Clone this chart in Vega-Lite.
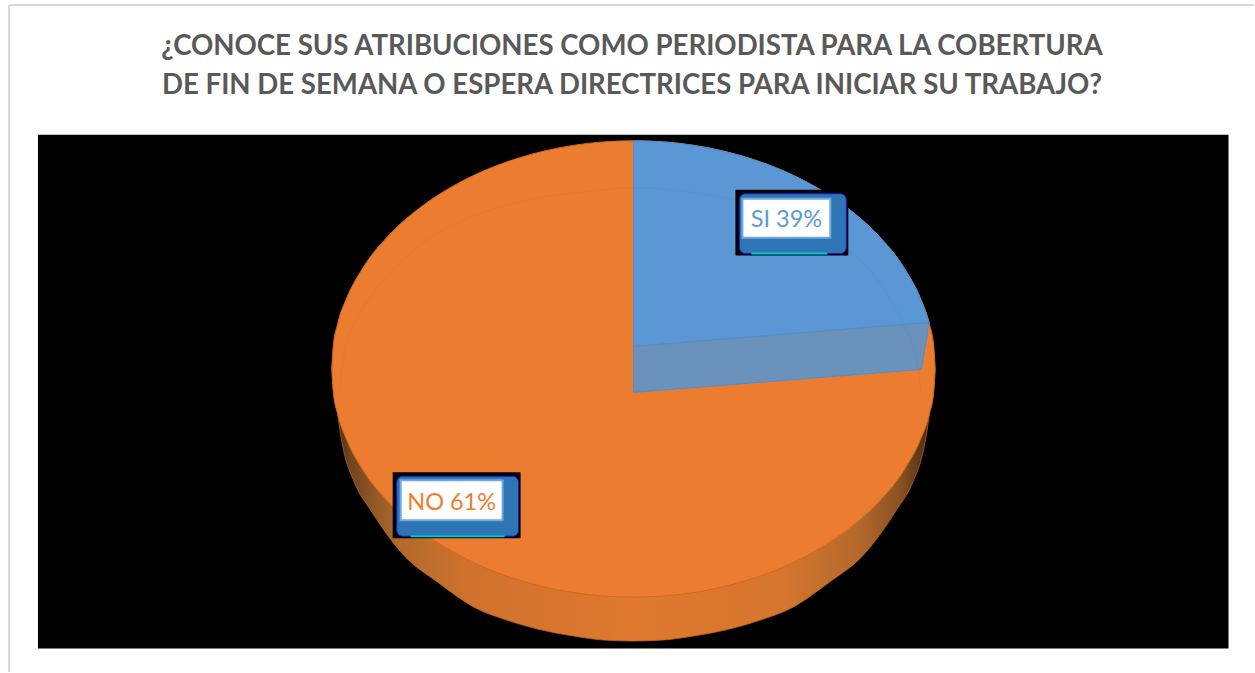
{
"$schema":"https://vega.github.io/schema/vega-lite/v6.json",
"autosize":{"type":"fit","contains":"padding"},
"width":1255,"height":673,"padding":0,"background":"#ffffff",
"view":{"stroke":null},
"datasets":{
"frame":[{"x":9,"x2":9,"y":5,"y2":673},{"x":9,"x2":1255,"y":5,"y2":5}],
"panel":[{"x":38,"x2":1229.5,"y":135,"y2":649.5}],
"side":[{"x":338,"y":415,"y2":415},{"x":340,"y":430,"y2":415},{"x":343,"y":447,"y2":415},{"x":355,"y":484,"y2":415},{"x":371,"y":511,"y2":415},{"x":405,"y":557,"y2":415},{"x":438,"y":583,"y2":415},{"x":478,"y":610,"y2":415},{"x":504,"y":620,"y2":415},{"x":538,"y":630,"y2":415},{"x":574,"y":637,"y2":415},{"x":604,"y":641,"y2":415},{"x":634,"y":642,"y2":415},{"x":664,"y":641,"y2":415},{"x":694,"y":637,"y2":415},{"x":730,"y":630,"y2":415},{"x":764,"y":620,"y2":415},{"x":790,"y":610,"y2":415},{"x":830,"y":583,"y2":415},{"x":863,"y":557,"y2":415},{"x":897,"y":511,"y2":415},{"x":913,"y":484,"y2":415},{"x":925,"y":447,"y2":415},{"x":928,"y":430,"y2":415},{"x":930,"y":415,"y2":415}],
"no":[{"x":332,"y":369.5,"y2":369.5},{"x":333.5,"y":346.7,"y2":392.3},{"x":338,"y":324,"y2":415},{"x":347.1,"y":298.2,"y2":440.8},{"x":362.2,"y":269.9,"y2":469.1},{"x":392.4,"y":232.4,"y2":506.6},{"x":422.6,"y":206.3,"y2":532.7},{"x":452.8,"y":186.7,"y2":552.3},{"x":483,"y":171.6,"y2":567.4},{"x":513.2,"y":160.1,"y2":578.9},{"x":543.4,"y":151.5,"y2":587.5},{"x":573.6,"y":145.6,"y2":593.4},{"x":603.8,"y":142.1,"y2":596.9},{"x":634,"y":141,"y2":598},{"x":664.2,"y":142.1,"y2":596.9},{"x":694.4,"y":145.6,"y2":593.4},{"x":724.6,"y":151.5,"y2":587.5},{"x":754.8,"y":160.1,"y2":578.9},{"x":785,"y":171.6,"y2":567.4},{"x":815.2,"y":186.7,"y2":552.3},{"x":845.4,"y":206.3,"y2":532.7},{"x":875.6,"y":232.4,"y2":506.6},{"x":905.8,"y":269.9,"y2":469.1},{"x":920.9,"y":298.2,"y2":440.8},{"x":930,"y":324,"y2":415},{"x":934.5,"y":346.7,"y2":392.3},{"x":936,"y":369.5,"y2":369.5}],
"siFace":[{"x":634,"y":347,"y2":393},{"x":922,"y":323.6,"y2":370},{"x":930,"y":323,"y2":323}],
"siTop":[{"x":634,"y":141,"y2":347},{"x":664.2,"y":142.1,"y2":344.6},{"x":694.4,"y":145.6,"y2":342.1},{"x":724.6,"y":151.5,"y2":339.7},{"x":754.8,"y":160.1,"y2":337.2},{"x":785,"y":171.6,"y2":334.8},{"x":815.2,"y":186.7,"y2":332.3},{"x":845.4,"y":206.3,"y2":329.9},{"x":875.6,"y":232.4,"y2":327.4},{"x":905.8,"y":269.9,"y2":325},{"x":920.9,"y":298.2,"y2":323.7},{"x":930,"y":323,"y2":323}],
"rim":[{"x":340,"y":395},{"x":342,"y":370},{"x":345,"y":352},{"x":358,"y":318},{"x":375,"y":292},{"x":425,"y":242},{"x":492,"y":210},{"x":540,"y":198},{"x":585,"y":192},{"x":635,"y":188},{"x":720,"y":197},{"x":776,"y":210},{"x":843,"y":245},{"x":885,"y":290},{"x":903,"y":323},{"x":918,"y":365},{"x":922,"y":395}],
"labels":[
{"label":"SI 39%","serie":"SI","value":39,"bx":736,"bx2":849,"by":190,"by2":256,"sx":740,"sx2":847,"sy":194,"sy2":254,"wx":743,"wx2":831,"wy":199,"wy2":238,"cx":752,"cx2":828,"cy":254,"tx":787,"ty":220,"color":"#5b9bd5"},
{"label":"NO 61%","serie":"NO","value":61,"bx":393,"bx2":521,"by":473,"by2":539,"sx":397,"sx2":519,"sy":477,"sy2":537,"wx":401,"wx2":503,"wy":481,"wy2":521,"cx":411,"cx2":505,"cy":537,"tx":452,"ty":504,"color":"#ed7d31"}],
"title":[{"t":"¿CONOCE SUS ATRIBUCIONES COMO PERIODISTA PARA LA COBERTURA","x":632.5,"y":47},{"t":"DE FIN DE SEMANA O ESPERA DIRECTRICES PARA INICIAR SU TRABAJO?","x":632.5,"y":86}]
},
"encoding":{
"x":{"field":"x","type":"quantitative","axis":null,"scale":{"domain":[0,1255]}},
"y":{"field":"y","type":"quantitative","axis":null,"scale":{"domain":[673,0]}}
},
"layer":[
{"data":{"name":"frame"},"mark":{"type":"rule","color":"#d9d9d9","strokeWidth":2},"encoding":{"x2":{"field":"x2"},"y2":{"field":"y2"}}},
{"data":{"name":"panel"},"mark":{"type":"rect","color":"#000000"},"encoding":{"x2":{"field":"x2"},"y2":{"field":"y2"}}},
{"data":{"name":"side"},"mark":{"type":"area","interpolate":"monotone","stroke":"#c96a20","strokeWidth":0.7,"color":{"gradient":"linear","x1":0,"y1":0,"x2":1,"y2":0,"stops":[{"offset":0,"color":"#4a2e14"},{"offset":0.02,"color":"#6f4420"},{"offset":0.1,"color":"#b06a2c"},{"offset":0.22,"color":"#cf722d"},{"offset":0.5,"color":"#e07830"},{"offset":0.75,"color":"#d6762e"},{"offset":0.88,"color":"#b4692b"},{"offset":0.95,"color":"#8a5222"},{"offset":0.985,"color":"#5a3a18"},{"offset":1,"color":"#4a2e14"}]}},"encoding":{"y2":{"field":"y2"}}},
{"data":{"name":"no"},"mark":{"type":"area","interpolate":"monotone","color":"#ec7c30","stroke":"#d2691f","strokeWidth":1},"encoding":{"y2":{"field":"y2"}}},
{"data":{"name":"siTop"},"mark":{"type":"area","interpolate":"monotone","color":"#5a97d4","stroke":"#4f8fca","strokeWidth":1},"encoding":{"y2":{"field":"y2"}}},
{"data":{"name":"siFace"},"mark":{"type":"area","color":"#6a92bb","stroke":"#4f8fca","strokeWidth":1},"encoding":{"y2":{"field":"y2"}}},
{"data":{"name":"rim"},"mark":{"type":"line","interpolate":"monotone","color":"#000000","opacity":0.018,"strokeWidth":1.5}},
{"data":{"name":"labels"},"mark":{"type":"rect","color":"#000000"},"encoding":{"x":{"field":"bx","type":"quantitative"},"x2":{"field":"bx2"},"y":{"field":"by","type":"quantitative"},"y2":{"field":"by2"}}},
{"data":{"name":"labels"},"mark":{"type":"rect","color":"#2e75b6","stroke":"#1018c8","strokeWidth":1,"cornerRadius":6},"encoding":{"x":{"field":"sx","type":"quantitative"},"x2":{"field":"sx2"},"y":{"field":"sy","type":"quantitative"},"y2":{"field":"sy2"}}},
{"data":{"name":"labels"},"mark":{"type":"rule","color":"#00c8d8","strokeWidth":2},"encoding":{"x":{"field":"cx","type":"quantitative"},"x2":{"field":"cx2"},"y":{"field":"cy","type":"quantitative"}}},
{"data":{"name":"labels"},"mark":{"type":"rect","color":"#ffffff","stroke":"#6fa8dc","strokeWidth":2},"encoding":{"x":{"field":"wx","type":"quantitative"},"x2":{"field":"wx2"},"y":{"field":"wy","type":"quantitative"},"y2":{"field":"wy2"}}},
{"data":{"name":"labels"},"mark":{"type":"text","font":"Lato","fontSize":23.5,"align":"center","baseline":"middle"},"encoding":{"x":{"field":"tx","type":"quantitative"},"y":{"field":"ty","type":"quantitative"},"text":{"field":"label"},"color":{"field":"color","type":"nominal","scale":null}}},
{"data":{"name":"title"},"mark":{"type":"text","font":"Lato","fontWeight":"bold","fontSize":27.6,"align":"center","baseline":"middle","color":"#595959"},"encoding":{"text":{"field":"t"}}}
]
}
